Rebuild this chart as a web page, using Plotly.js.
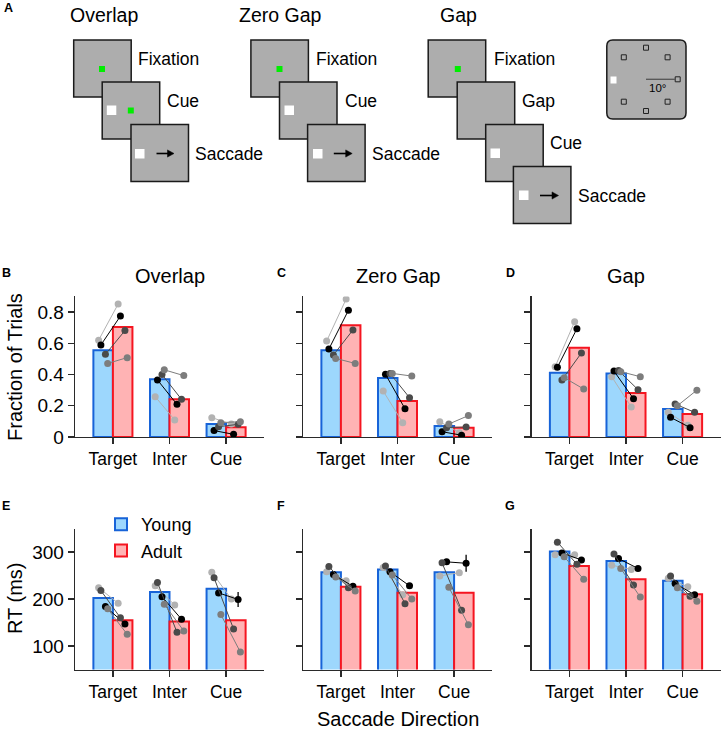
<!DOCTYPE html>
<html><head><meta charset="utf-8">
<script src="https://cdn.plot.ly/plotly-3.0.1.min.js"></script>
<style>html,body{margin:0;padding:0;background:#fff}#chart{width:722px;height:733px}</style>
</head><body><div id="chart"></div>
<script>
// ---------------- DATA ----------------
const categories = ['Target', 'Inter', 'Cue'];
const groupNames = ['Young', 'Adult'];
const panelTitles = ['Overlap', 'Zero Gap', 'Gap'];
const subjectNames = ['S1', 'S2', 'S3', 'S4'];
const yTicksFrac = [0, 0.2, 0.4, 0.6, 0.8];
const yTickTextFrac = ['0', '0.2', '0.4', '0.6', '0.8'];
const yTicksRT = [100, 200, 300];
const yTickTextRT = ['100', '200', '300'];

// Fraction of trials: group means (Target, Inter, Cue)
const fracOverlapYoung = [0.555, 0.369, 0.083];
const fracOverlapAdult = [0.704, 0.241, 0.062];
const fracZeroGapYoung = [0.555, 0.378, 0.070];
const fracZeroGapAdult = [0.715, 0.230, 0.060];
const fracGapYoung = [0.412, 0.407, 0.179];
const fracGapAdult = [0.572, 0.282, 0.147];

// Fraction of trials: individual subjects (rows S1..S4, columns Target, Inter, Cue)
const fracOverlapSubjYoung = [[0.620, 0.258, 0.124], [0.589, 0.365, 0.041], [0.529, 0.400, 0.066], [0.471, 0.430, 0.092]];
const fracOverlapSubjAdult = [[0.851, 0.109, 0.083], [0.774, 0.209, 0.017], [0.681, 0.241, 0.081], [0.508, 0.393, 0.098]];
const fracZeroGapSubjYoung = [[0.614, 0.294, 0.098], [0.563, 0.401, 0.034], [0.525, 0.407, 0.060], [0.503, 0.407, 0.083]];
const fracZeroGapSubjAdult = [[0.883, 0.092, 0.028], [0.811, 0.181, 0.011], [0.685, 0.252, 0.064], [0.471, 0.390, 0.137]];
const fracGapSubjYoung = [[0.450, 0.386, 0.158], [0.446, 0.422, 0.126], [0.365, 0.425, 0.211], [0.380, 0.418, 0.200]];
const fracGapSubjAdult = [[0.738, 0.192, 0.075], [0.693, 0.245, 0.060], [0.538, 0.303, 0.158], [0.307, 0.386, 0.300]];

// RT (ms): group means
const rtOverlapYoung = [202, 215, 222];
const rtOverlapAdult = [155, 152, 155];
const rtZeroGapYoung = [257, 263, 257];
const rtZeroGapAdult = [226, 213.5, 213.5];
const rtGapYoung = [301, 281, 239];
const rtGapAdult = [270, 242, 210];

// RT (ms): individual subjects (rows S1..S4)
const rtOverlapSubjYoung = [[224, 228, 257], [184, 205, 213], [218, 235, 245], [179, 189, 167]];
const rtOverlapSubjAdult = [[191, 187, 200], [147, 157, 199], [160, 129, 136], [125, 132, 87]];
const rtZeroGapSubjYoung = [[258, 267, 249], [252, 258, 279], [269, 270, 277], [247, 251, 225]];
const rtZeroGapSubjAdult = [[239, 209, 256], [227, 228, 276], [224, 190, 176], [217, 200, 145]];
const rtGapSubjYoung = [[294, 272, 244], [298, 286, 233], [321, 296, 249], [290, 265, 224]];
const rtGapSubjAdult = [[294, 263, 226], [283, 265, 209], [274, 230, 206], [242, 204, 195]];
// RT error (ms) for subject S2, adult points
const rtOverlapErrS2Adult = [0, 0, 16];
const rtZeroGapErrS2Adult = [0, 0, 18];
const rtGapErrS2Adult = [0, 0, 0];

// ---------------- STYLE ----------------
const W = 722, H = 733;
const X = p => p / W;
const Y = p => 1 - p / H;
const FONT = 'Liberation Sans, Arial, Helvetica, sans-serif';
const youngFill = '#9dd7fd', youngLine = '#1763d8';
const adultFill = '#ffb3b4', adultLine = '#f51520';
const subjColors = ['#b2b2b2', '#000000', '#4a4a4a', '#7d7d7d'];
const jitterFrac = [-0.08, -0.04, 0.04, 0.08];
const jitterRT = [-0.08, 0.04, -0.04, 0.08];
const halfBar = 0.1725;
const axisColor = '#2a2a2a';

const colDomains = [[75, 264], [303, 492], [531.5, 720.5]];
const rowDomains = [[296.4, 437], [528.5, 669.5]];

const panels = [
  {row: 0, col: 0, young: fracOverlapYoung, adult: fracOverlapAdult, sy: fracOverlapSubjYoung, sa: fracOverlapSubjAdult, err: null},
  {row: 0, col: 1, young: fracZeroGapYoung, adult: fracZeroGapAdult, sy: fracZeroGapSubjYoung, sa: fracZeroGapSubjAdult, err: null},
  {row: 0, col: 2, young: fracGapYoung, adult: fracGapAdult, sy: fracGapSubjYoung, sa: fracGapSubjAdult, err: null},
  {row: 1, col: 0, young: rtOverlapYoung, adult: rtOverlapAdult, sy: rtOverlapSubjYoung, sa: rtOverlapSubjAdult, err: rtOverlapErrS2Adult},
  {row: 1, col: 1, young: rtZeroGapYoung, adult: rtZeroGapAdult, sy: rtZeroGapSubjYoung, sa: rtZeroGapSubjAdult, err: rtZeroGapErrS2Adult},
  {row: 1, col: 2, young: rtGapYoung, adult: rtGapAdult, sy: rtGapSubjYoung, sa: rtGapSubjAdult, err: rtGapErrS2Adult}
];

const traces = [];
const layout = {
  width: W, height: H,
  margin: {l: 0, r: 0, t: 0, b: 0},
  paper_bgcolor: '#fff', plot_bgcolor: 'rgba(0,0,0,0)',
  font: {family: FONT, color: '#000'},
  barmode: 'overlay',
  showlegend: true,
  legend: {x: X(101), y: Y(506), xanchor: 'left', yanchor: 'top', bgcolor: 'rgba(0,0,0,0)',
           font: {size: 18, family: FONT}, tracegroupgap: 0, itemwidth: 30},
  shapes: [], annotations: []
};

const catIdx = categories.map((c, i) => i);

panels.forEach((p, k) => {
  const n = k + 1;
  const xa = 'x' + (n === 1 ? '' : n), ya = 'y' + (n === 1 ? '' : n);
  const showLeg = (k === 3);
  traces.push({type: 'bar', x: catIdx, y: p.young, width: 0.345, offset: -0.345, name: groupNames[0],
    xaxis: xa, yaxis: ya, showlegend: showLeg, legendgroup: 'young',
    marker: {color: youngFill, line: {color: youngLine, width: 2}}, hoverinfo: 'skip'});
  traces.push({type: 'bar', x: catIdx, y: p.adult, width: 0.345, offset: 0, name: groupNames[1],
    xaxis: xa, yaxis: ya, showlegend: showLeg, legendgroup: 'adult',
    marker: {color: adultFill, line: {color: adultLine, width: 2}}, hoverinfo: 'skip'});
  const jit = p.row === 0 ? jitterFrac : jitterRT;
  subjectNames.forEach((s, si) => {
    const xs = [], ys = [], es = [];
    catIdx.forEach(ci => {
      xs.push(ci - halfBar + jit[si], ci + halfBar + jit[si], null);
      ys.push(p.sy[si][ci], p.sa[si][ci], null);
      es.push(0, (p.err && si === 1) ? p.err[ci] : 0, 0);
    });
    const tr = {type: 'scatter', mode: 'lines+markers', x: xs, y: ys, name: s,
      xaxis: xa, yaxis: ya, showlegend: false, hoverinfo: 'skip',
      line: {color: subjColors[si], width: 1},
      marker: {color: subjColors[si], size: 7}};
    if (p.err && si === 1) tr.error_y = {type: 'data', array: es, visible: true, color: subjColors[si], thickness: 1.3, width: 0};
    traces.push(tr);
  });
  const cd = colDomains[p.col], rd = rowDomains[p.row];
  layout['xaxis' + (n === 1 ? '' : n)] = {
    domain: [X(cd[0]), X(cd[1])], anchor: ya, range: [-0.67, 2.67],
    tickvals: catIdx, ticktext: categories, ticks: 'outside', ticklen: 6, tickwidth: 1.3,
    tickcolor: axisColor, showline: true, linecolor: axisColor, linewidth: 1.3,
    showgrid: false, zeroline: false, fixedrange: true,
    tickfont: {size: 17.5, family: FONT, color: '#000'}
  };
  layout['yaxis' + (n === 1 ? '' : n)] = {
    domain: [Y(rd[1]), Y(rd[0])], anchor: xa,
    range: p.row === 0 ? [0, 0.9] : [50, 350],
    tickvals: p.row === 0 ? yTicksFrac : yTicksRT,
    ticktext: p.row === 0 ? yTickTextFrac : yTickTextRT,
    showticklabels: p.col === 0,
    ticks: 'outside', ticklen: 6, tickwidth: 1.3, tickcolor: axisColor,
    showline: true, linecolor: axisColor, linewidth: 1.3,
    showgrid: false, zeroline: false, fixedrange: true,
    tickfont: {size: 19, family: FONT, color: '#000'}
  };
});

const ann = layout.annotations, shp = layout.shapes;
function T(text, x, y, size, opts) {
  ann.push(Object.assign({text: text, x: X(x), y: Y(y), xref: 'paper', yref: 'paper', showarrow: false,
    xanchor: 'center', yanchor: 'middle', font: {size: size, family: FONT, color: '#000'}}, opts || {}));
}
// Panel letters
[['A', 8, 8], ['B', 6, 273], ['C', 281, 273], ['D', 510, 273], ['E', 5.5, 506], ['F', 281, 506], ['G', 510, 506]]
  .forEach(l => T('<b>' + l[0] + '</b>', l[1], l[2], 12.5));
// Row 1 titles
T(panelTitles[0], 169.5, 276, 20);
T(panelTitles[1], 397.5, 276, 20);
T(panelTitles[2], 626, 276, 20);
// Axis titles
T('Fraction of Trials', 15, 367, 20, {textangle: -90});
T('RT (ms)', 15, 599, 20, {textangle: -90});
T('Saccade Direction', 397.5, 719, 20);

// ---------- Panel A schematic ----------
const boxFill = '#adadad', boxLine = '#1a1a1a';
function rect(x0, y0, x1, y1, fill, lineColor, lw) {
  shp.push({type: 'rect', xref: 'paper', yref: 'paper', x0: X(x0), x1: X(x1), y0: Y(y1), y1: Y(y0),
    fillcolor: fill, line: {color: lineColor || fill, width: lw === undefined ? 0 : lw}, layer: 'above'});
}
function screen(x0, y0) { rect(x0, y0, x0 + 57.5, y0 + 57, boxFill, boxLine, 1.5); }
function green(cx, cy) { rect(cx - 3, cy - 3, cx + 3, cy + 3, '#00ee00'); }
function white(x0, y0) { rect(x0, y0, x0 + 9.5, y0 + 9.5, '#ffffff'); }
function arrow(x0, x1, y) {
  const hl = 6.5, hw = 3.6;
  shp.push({type: 'line', xref: 'paper', yref: 'paper', x0: X(x0), x1: X(x1 - hl + 1), y0: Y(y), y1: Y(y),
    line: {color: '#000', width: 1.6}, layer: 'above'});
  shp.push({type: 'path', xref: 'paper', yref: 'paper',
    path: 'M' + X(x1) + ',' + Y(y) + ' L' + X(x1 - hl) + ',' + Y(y - hw) + ' L' + X(x1 - hl) + ',' + Y(y + hw) + ' Z',
    fillcolor: '#000', line: {color: '#000', width: 0.5}, layer: 'above'});
}
function label(text, x, y) { T(text, x, y, 17.5, {xanchor: 'left'}); }

// Overlap
T('Overlap', 68, 15, 19.5, {xanchor: 'left'});
screen(73.7, 40); green(102, 69);
screen(102.2, 82); white(106.8, 105.5); green(130.8, 110.5);
screen(131, 124.5); white(135, 149); arrow(156.5, 174, 153.5);
label('Fixation', 136, 58.5); label('Cue', 164.5, 100.5); label('Saccade', 193, 154);
// Zero Gap
T('Zero Gap', 237, 15, 19.5, {xanchor: 'left'});
screen(250.9, 40); green(279.5, 69);
screen(279.5, 82); white(284.5, 105.5);
screen(307.6, 124.5); white(313, 149); arrow(333.8, 352.2, 153.5);
label('Fixation', 314, 58.5); label('Cue', 342.5, 100.5); label('Saccade', 370, 154);
// Gap
T('Gap', 438, 15, 19.5, {xanchor: 'left'});
screen(428.2, 40); green(457.8, 69);
screen(457.2, 82);
screen(485.7, 124.5); white(490.5, 148.5);
screen(513.4, 166.5); white(519, 190.5); arrow(540, 558.5, 195.5);
label('Fixation', 491.5, 58.5); label('Gap', 520, 100.5); label('Cue', 547.5, 143); label('Saccade', 576, 196);

// Inset: target layout
(function () {
  const x0 = 606.8, x1 = 686, y0 = 40, y1 = 119, r = 6;
  const path = 'M' + X(x0 + r) + ',' + Y(y0) + ' L' + X(x1 - r) + ',' + Y(y0) +
    ' Q' + X(x1) + ',' + Y(y0) + ' ' + X(x1) + ',' + Y(y0 + r) +
    ' L' + X(x1) + ',' + Y(y1 - r) + ' Q' + X(x1) + ',' + Y(y1) + ' ' + X(x1 - r) + ',' + Y(y1) +
    ' L' + X(x0 + r) + ',' + Y(y1) + ' Q' + X(x0) + ',' + Y(y1) + ' ' + X(x0) + ',' + Y(y1 - r) +
    ' L' + X(x0) + ',' + Y(y0 + r) + ' Q' + X(x0) + ',' + Y(y0) + ' ' + X(x0 + r) + ',' + Y(y0) + ' Z';
  shp.push({type: 'path', xref: 'paper', yref: 'paper', path: path, fillcolor: boxFill,
    line: {color: boxLine, width: 1.5}, layer: 'above'});
  [[646, 47.7], [623.8, 57.3], [667.6, 57.3], [677.7, 79.3], [623.8, 101.7], [667.6, 101.7], [646, 111]]
    .forEach(c => rect(c[0] - 2.5, c[1] - 2.5, c[0] + 2.5, c[1] + 2.5, 'rgba(0,0,0,0)', '#222', 1));
  rect(610.5, 76.5, 616.5, 83.5, '#ffffff');
  shp.push({type: 'line', xref: 'paper', yref: 'paper', x0: X(646), x1: X(675.2), y0: Y(79.3), y1: Y(79.3),
    line: {color: '#555', width: 1.3}, layer: 'above'});
  T('10°', 657, 88, 11.5);
})();

Plotly.newPlot('chart', traces, layout, {displayModeBar: false, staticPlot: true});
</script>
</body></html>
